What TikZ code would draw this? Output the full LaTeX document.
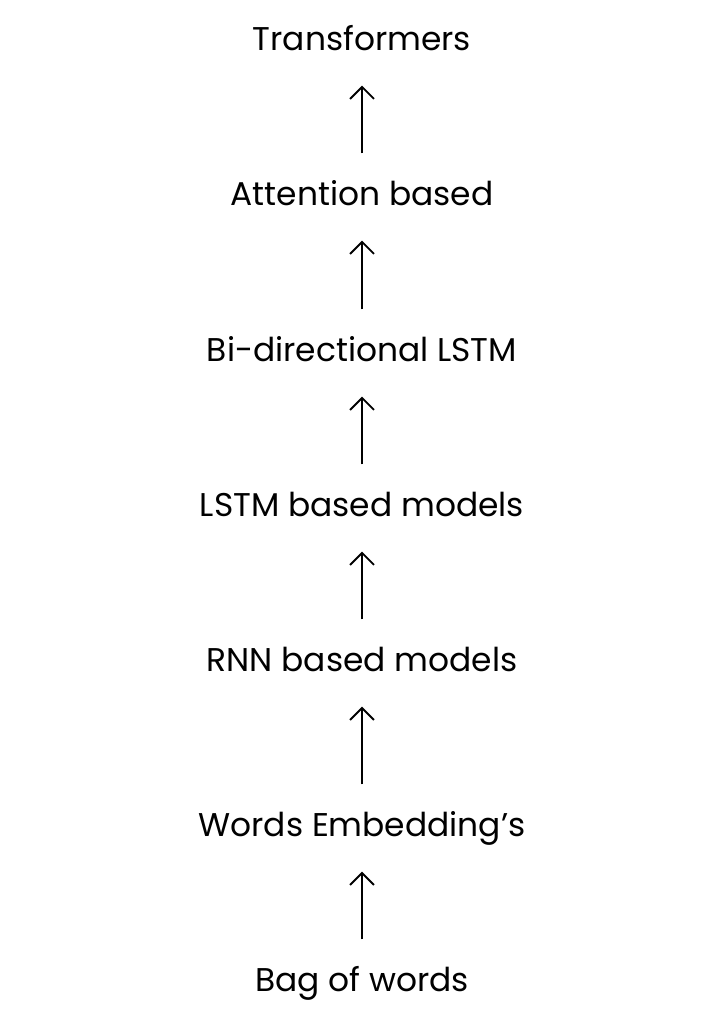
\documentclass[tikz,border=0pt]{standalone}
\usepackage{fontspec}
\setmainfont{Poppins}
\usetikzlibrary{arrows.meta}
\tikzset{
  stage/.style={font=\fontsize{33}{36}\selectfont, inner sep=0pt, text height=24bp, text depth=7bp},
  up/.style={-{Straight Barb[length=12bp,width=24bp]}, line width=1.8bp, shorten >=28bp, shorten <=28bp}
}
\begin{document}
\begin{tikzpicture}[x=1bp,y=-1bp]
	\useasboundingbox (0,0) rectangle (724,1024);
	% stages, bottom to top
	\node[stage] (bag) at (362,983) {Bag of words};
	\node[stage] (emb) at (362,828) {Words Embedding's};
	\node[stage] (rnn) at (362,663) {RNN based models};
	\node[stage] (lstm) at (362,508) {LSTM based models};
	\node[stage] (bilstm) at (362,353) {Bi-directional LSTM};
	\node[stage] (att) at (362,197) {Attention based};
	\node[stage] (trans) at (362,42) {Transformers};

	% arrows
	\foreach \a/\b in {bag/emb, emb/rnn, rnn/lstm, lstm/bilstm, bilstm/att, att/trans}
		\draw[up] (\a.north) -- (\b.south);
\end{tikzpicture}
\end{document}
